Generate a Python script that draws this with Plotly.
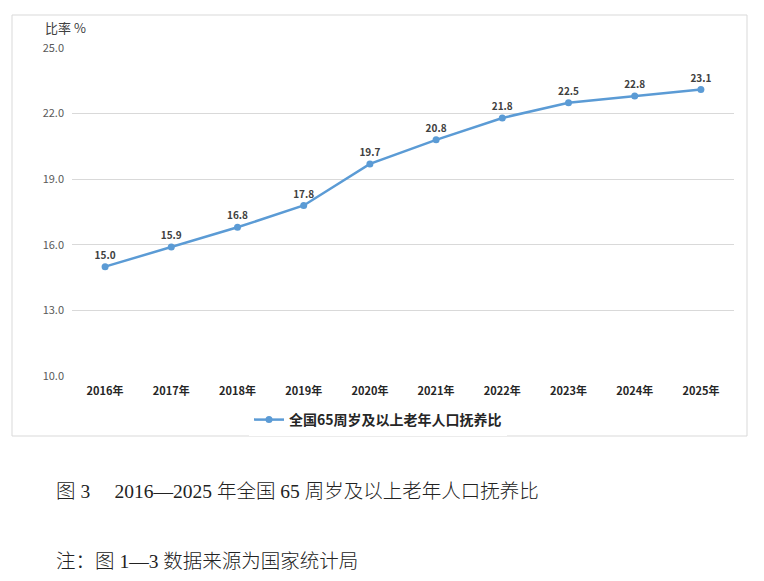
import plotly.graph_objects as go

years = ["2016年", "2017年", "2018年", "2019年", "2020年",
         "2021年", "2022年", "2023年", "2024年", "2025年"]
ratio = [15.0, 15.9, 16.8, 17.8, 19.7, 20.8, 21.8, 22.5, 22.8, 23.1]
series_name = "全国65周岁及以上老年人口抚养比"
y_ticks = [10.0, 13.0, 16.0, 19.0, 22.0, 25.0]

# the page puts the figure 8px in from the top-left corner
OFF = 8
W, H = 764 - OFF, 581 - OFF
L, R, T, B = 72 - OFF, 30, 48 - OFF, 205
pw, ph = W - L - R, H - T - B


def px(x):
    return (x - OFF - L) / pw


def py(y):
    return (H - B - (y - OFF)) / ph


sans = "Noto Sans CJK SC, Liberation Sans, sans-serif"
serif = "Liberation Serif, Noto Sans CJK SC, serif"

fig = go.Figure()
fig.add_trace(go.Scatter(
    x=years, y=ratio, name=series_name,
    mode="lines+markers+text",
    line=dict(color="#5B9BD5", width=2.5),
    marker=dict(color="#5B9BD5", size=7),
    text=[f"{v:.1f}" for v in ratio],
    textposition="top center",
    textfont=dict(family=sans, size=10, color="#404040", weight="bold"),
    cliponaxis=False,
))

fig.update_layout(
    width=W, height=H,
    margin=dict(l=L, r=R, t=T, b=B),
    paper_bgcolor="white", plot_bgcolor="white",
    font=dict(family=sans, color="#595959"),
    showlegend=True,
    legend=dict(orientation="h", x=px(378), xanchor="center",
                y=py(420), yanchor="middle",
                font=dict(family=sans, size=14, color="#262626", weight="bold")),
    xaxis=dict(range=[-0.5, 9.5], showgrid=False, showline=False,
               ticks="", ticklabelstandoff=7,
               tickfont=dict(family=sans, size=11, color="#262626", weight="bold")),
    yaxis=dict(range=[10, 25], tickvals=y_ticks, tickformat=".1f",
               showgrid=True, gridcolor="#D9D9D9", gridwidth=1,
               zeroline=False, showline=False, ticks="", ticklabelstandoff=7,
               tickfont=dict(family=sans, size=11, color="#595959")),
)

# outer chart frame
fig.add_shape(type="rect", xref="paper", yref="paper",
              x0=px(12), x1=px(747), y0=py(436), y1=py(15),
              line=dict(color="#D9D9D9", width=1), layer="below")

fig.add_annotation(text="比率 %", xref="paper", yref="paper",
                   x=px(43), y=py(27), xanchor="left", yanchor="middle",
                   showarrow=False, font=dict(family=sans, size=13, color="#404040"))
fig.add_annotation(text="图 3\u3000 2016—2025 年全国 65 周岁及以上老年人口抚养比",
                   xref="paper", yref="paper", x=px(54), y=py(492),
                   xanchor="left", yanchor="middle", showarrow=False,
                   font=dict(family=serif, size=19.5, color="#222222", weight=300))
fig.add_annotation(text="注：图 1—3 数据来源为国家统计局",
                   xref="paper", yref="paper", x=px(54), y=py(561),
                   xanchor="left", yanchor="middle", showarrow=False,
                   font=dict(family=serif, size=19.5, color="#222222", weight=300))

fig.write_html("out.html")
